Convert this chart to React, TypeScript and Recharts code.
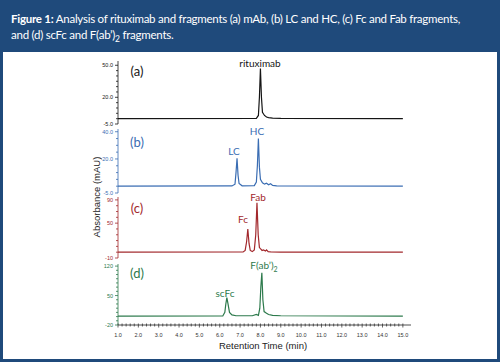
import { LineChart, Line, XAxis, YAxis } from 'recharts';

// retention time (min) and absorbance (mAU) for each trace
const T_MAB = [1, 7.8, 7.9, 7.95, 8.0, 8.05, 8.1, 8.2, 8.3, 8.4, 8.6, 9, 15];
const MAB = [0, 0.3, 3, 20, 47, 20, 6, 3, 1.5, 1, 0.5, 0.2, 0];

const T_LCHC = [1, 6.6, 6.75, 6.8, 6.85, 6.9, 6.95, 7.1, 7.7, 7.8, 7.85, 7.9, 7.95, 8.0, 8.1, 8.2, 8.3, 8.4, 8.5, 8.6, 8.8, 15];
const LCHC = [0, 0.2, 1.5, 10, 20.5, 8, 2, 0.3, 0.4, 3, 15, 35, 14, 5, 2.5, 1.5, 2.2, 1, 1.8, 0.6, 0.3, 0];

const T_FCFAB = [1, 7.15, 7.25, 7.32, 7.38, 7.44, 7.5, 7.6, 7.7, 7.77, 7.83, 7.89, 7.95, 8.0, 8.08, 8.15, 8.25, 8.3, 8.38, 8.5, 9, 15];
const FCFAB = [0, 0.5, 3, 18, 40, 15, 3, 1, 4, 30, 85, 30, 8, 6, 3, 4, 2, 4, 1, 0.5, 0.2, 0];

const T_SCFC = [1, 6.15, 6.25, 6.3, 6.35, 6.4, 6.48, 6.6, 6.8, 7.6, 7.8, 7.9, 7.97, 8.02, 8.07, 8.12, 8.18, 8.3, 8.4, 8.6, 9, 15];
const SCFC = [1, 1.5, 10, 30, 45, 32, 10, 4, 2, 2, 5, 3, 20, 70, 104, 40, 12, 8, 5, 3, 2, 1];

const X_TICKS = [1, 2, 3, 4, 5, 6, 7, 8, 9, 10, 11, 12, 13, 14, 15];
const X_MINOR = X_TICKS.flatMap((t) => (t < 15 ? [t, t + 0.2, t + 0.4, t + 0.6, t + 0.8] : [t]));

const Y_MAJOR_A = [-5, 20, 50];
const Y_MAJOR_B = [-5, 20, 40];
const Y_MAJOR_C = [-10, 50, 90];
const Y_MAJOR_D = [-20, 50, 120];

const zip = (ts: number[], vs: number[]) => ts.map((t, i) => ({ t, v: vs[i] }));

const minorTicks = (lo: number, hi: number, step: number) => {
  const out: number[] = [];
  for (let v = lo; v <= hi + 1e-9; v += step) out.push(Math.round(v * 100) / 100);
  return out;
};

const TICK_FONT = '"Liberation Sans", Arial, sans-serif';
const LABEL_FONT = 'Lato, "Open Sans", sans-serif';

function YTick(props: any) {
  const { x, y, payload, color, majors, digits } = props;
  const isMajor = majors.includes(payload.value);
  return (
    <g>
      <line x1={x - (isMajor ? 3 : 2)} x2={x} y1={y} y2={y} stroke={color} strokeWidth={0.8} />
      {isMajor && (
        <text x={x - 5} y={y} dy={2} textAnchor="end" fontSize={5.5} fill={color} fontFamily={TICK_FONT}>
          {payload.value.toFixed(digits)}
        </text>
      )}
    </g>
  );
}

function XTick(props: any) {
  const { x, y, payload } = props;
  const isMajor = Math.abs(payload.value - Math.round(payload.value)) < 1e-6;
  return (
    <g>
      <line x1={x} x2={x} y1={y - 1.5} y2={y + (isMajor ? 2.5 : 1.5)} stroke="#222" strokeWidth={0.7} />
      {isMajor && (
        <text x={x} y={y + 12} textAnchor="middle" fontSize={5.5} fill="#333" fontFamily={TICK_FONT}>
          {payload.value.toFixed(1)}
        </text>
      )}
    </g>
  );
}

interface TraceProps {
  data: { t: number; v: number }[];
  color: string;
  domain: [number, number];
  ticks: number[];
  majors: number[];
  digits: number;
  top: number;
  bottom: number;
  showX?: boolean;
}

function Trace({ data, color, domain, ticks, majors, digits, top, bottom, showX }: TraceProps) {
  return (
    <div style={{ position: 'absolute', left: 0, top: 0 }}>
      <LineChart width={500} height={362} data={data} margin={{ top, right: 89, bottom, left: 88 }}>
        <XAxis
          type="number"
          dataKey="t"
          domain={[1, 15.4]}
          allowDataOverflow
          hide={!showX}
          ticks={X_MINOR}
          interval={0}
          height={20}
          tickSize={0}
          tickMargin={0}
          axisLine={{ stroke: '#222', strokeWidth: 0.8 }}
          tick={(p: any) => <XTick {...p} />}
        />
        <YAxis
          type="number"
          domain={domain}
          allowDataOverflow
          ticks={ticks}
          interval={0}
          width={30}
          tickSize={0}
          tickMargin={0}
          axisLine={{ stroke: color, strokeWidth: 0.8 }}
          tick={(p: any) => <YTick {...p} color={color} majors={majors} digits={digits} />}
        />
        <Line type="linear" dataKey="v" stroke={color} strokeWidth={1.2} dot={false} isAnimationActive={false} />
      </LineChart>
    </div>
  );
}

const BLACK = '#151515';
const BLUE = '#3a6db3';
const RED = '#a2282c';
const GREEN = '#2d7a4c';

function Tag({ x, y, color, size, children }: { x: number; y: number; color: string; size: number; children: any }) {
  return (
    <div
      style={{
        position: 'absolute',
        left: x,
        top: y,
        transform: 'translate(-50%, -50%)',
        color,
        fontSize: size,
        fontFamily: LABEL_FONT,
        whiteSpace: 'nowrap',
        lineHeight: 1,
      }}
    >
      {children}
    </div>
  );
}

export default function App() {
  return (
    <div style={{ position: 'fixed', left: 0, top: 0, width: 500, height: 362, background: '#1f4a7b', overflow: 'hidden' }}>
      <div
        style={{
          position: 'absolute',
          left: 11,
          top: 11,
          width: 486,
          color: '#fff',
          fontFamily: LABEL_FONT,
          fontSize: 11.5,
          letterSpacing: -0.25,
          lineHeight: '16px',
          whiteSpace: 'nowrap',
        }}
      >
        <div>
          <b>Figure 1:</b> Analysis of rituximab and fragments (a) mAb, (b) LC and HC, (c) Fc and Fab fragments,
        </div>
        <div>
          and (d) scFc and F(ab’)<sub style={{ fontSize: 8.5, lineHeight: 0 }}>2</sub> fragments.
        </div>
      </div>
      <div style={{ position: 'absolute', left: 3, top: 52, width: 494, height: 307, background: '#fff' }} />

      <Trace data={zip(T_MAB, MAB)} color={BLACK} domain={[-5, 54]} ticks={minorTicks(-5, 50, 5)} majors={Y_MAJOR_A} digits={1} top={61} bottom={238} />
      <Trace data={zip(T_LCHC, LCHC)} color={BLUE} domain={[-5, 42]} ticks={minorTicks(-5, 40, 5)} majors={Y_MAJOR_B} digits={1} top={129} bottom={169} />
      <Trace data={zip(T_FCFAB, FCFAB)} color={RED} domain={[-10, 95]} ticks={minorTicks(-10, 90, 10)} majors={Y_MAJOR_C} digits={0} top={197} bottom={104} />
      <Trace data={zip(T_SCFC, SCFC)} color={GREEN} domain={[-20, 125]} ticks={minorTicks(-20, 120, 10)} majors={Y_MAJOR_D} digits={0} top={264} bottom={17} showX />

      <Tag x={137} y={71} color={BLACK} size={13}>(a)</Tag>
      <Tag x={260} y={63} color={BLACK} size={10}>rituximab</Tag>
      <Tag x={137} y={142} color={BLUE} size={13}>(b)</Tag>
      <Tag x={234} y={151} color={BLUE} size={10}>LC</Tag>
      <Tag x={257} y={131} color={BLUE} size={10}>HC</Tag>
      <Tag x={137} y={208} color={RED} size={13}>(c)</Tag>
      <Tag x={243} y={219} color={RED} size={10}>Fc</Tag>
      <Tag x={258} y={197} color={RED} size={10}>Fab</Tag>
      <Tag x={137} y={273} color={GREEN} size={13}>(d)</Tag>
      <Tag x={225} y={293} color={GREEN} size={10}>scFc</Tag>
      <Tag x={264} y={266} color={GREEN} size={10}>
        F(ab’)<sub style={{ fontSize: 7 }}>2</sub>
      </Tag>

      <Tag x={263} y={346} color="#222" size={9.5}>
        <span style={{ fontFamily: TICK_FONT }}>Retention Time (min)</span>
      </Tag>
      <div
        style={{
          position: 'absolute',
          left: 96,
          top: 197,
          transform: 'translate(-50%, -50%) rotate(-90deg)',
          fontFamily: TICK_FONT,
          fontSize: 9.5,
          color: '#222',
          whiteSpace: 'nowrap',
        }}
      >
        Absorbance (mAU)
      </div>
    </div>
  );
}
